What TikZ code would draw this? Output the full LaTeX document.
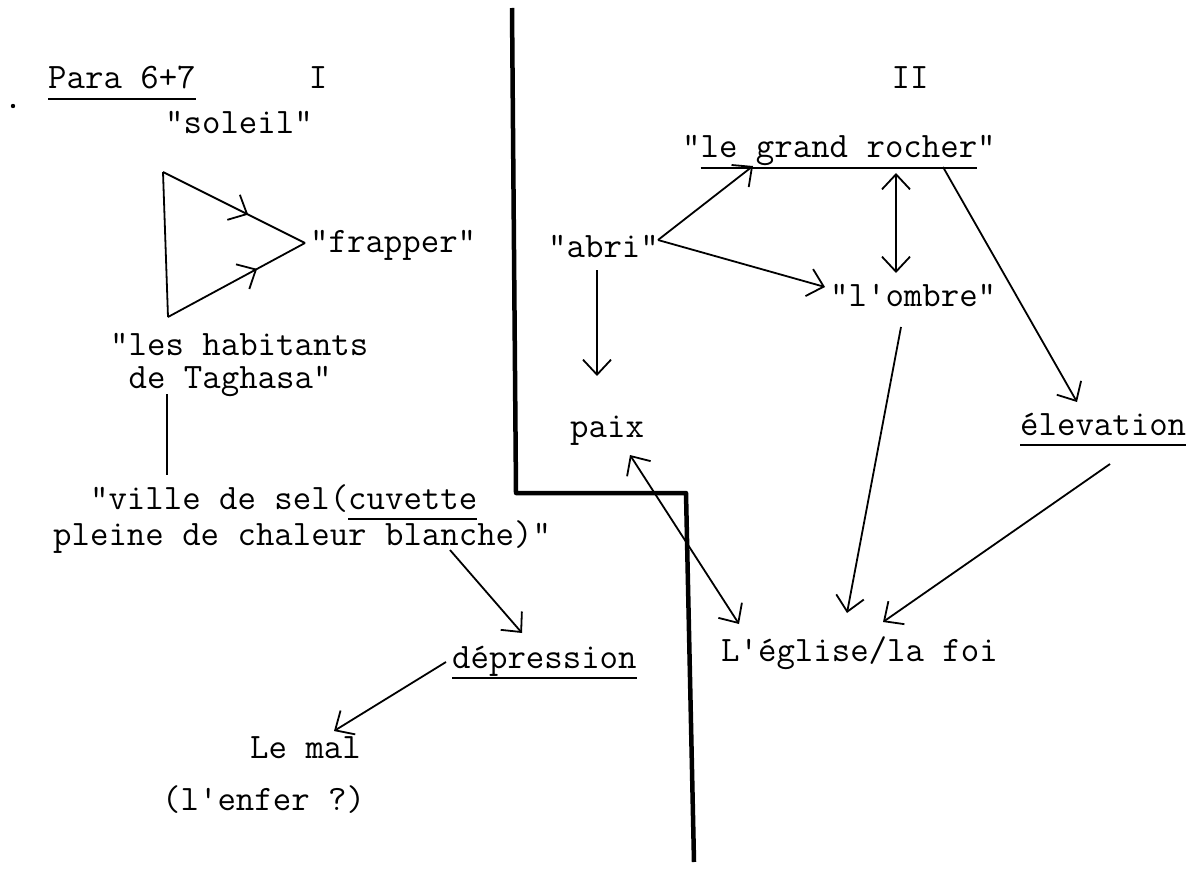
\documentclass[tikz,border=0pt]{standalone}
\usepackage{tikz}
\usetikzlibrary{arrows.meta,calc,decorations.markings}
\newsavebox\ulbox
\newcommand*{\tul}[1]{\sbox\ulbox{#1}\rlap{\rule[-0.3em]{\wd\ulbox}{1.6pt}}\usebox\ulbox}
\newcommand*{\typed}{\ttfamily\fontsize{35.8}{32}\selectfont}
\tikzset{
  word/.style={anchor=base west, inner sep=2pt, text height=22pt, text depth=8pt},
  lines/.style={anchor=north west, inner sep=2pt, align=left},
  link/.style={line width=1.8pt, -{Straight Barb[length=15pt,width=28pt]}},
  both/.style={link, {Straight Barb[length=15pt,width=28pt]}-{Straight Barb[length=15pt,width=28pt]}},
  midarrow/.style={postaction={decorate}, decoration={markings,
      mark=at position #1 with {\arrow{Straight Barb[length=15pt,width=28pt]}}}},
}
\begin{document}
\begin{tikzpicture}[x=1pt, y=-1pt, font=\typed]
  \useasboundingbox (0, 0) rectangle (1202, 869);

  % part I
  \fill (13, 106) circle (2.2);
  \node[word] (para) at (46, 89) {\tul{Para 6+7}};
  \node[word, anchor=base] (one) at (318, 89) {I};
  \node[word] (soleil) at (163, 134) {"soleil"};
  \node[word] (frapper) at (308, 252) {"frapper"};
  \node[lines] (hab) at (108, 331) {"les habitants\\[1pt]\phantom{x}de Taghasa"};
  \node[lines] (ville) at (51, 482) {\phantom{xx}"ville de sel(\tul{cuvette}\\pleine de chaleur blanche)"};
  \node[word] (dep) at (450, 668) {\tul{dépression}};
  \node[word] (mal) at (248, 758) {Le mal};
  \node[word] (enfer) at (160, 810) {(l'enfer ?)};

  \coordinate (sun) at (163, 172);
  \coordinate (inh) at (168, 317);
  \coordinate (tip) at ($(frapper.base west)+(-3, -9)$);
  \draw[line width=1.8pt] (inh) -- (sun);
  \draw[line width=1.8pt, midarrow=.6] (sun) -- (tip);
  \draw[line width=1.8pt, midarrow=.65] (inh) -- (tip);

  \draw[line width=1.8pt] ($(hab.north west)+(59, 63)$) -- ($(ville.north west)+(116, -7)$);
  \draw[link] ($(ville.north west)+(399, 68)$) -- ($(dep.base west)+(72, -35)$);
  \draw[link] ($(dep.base west)+(-4, -6)$) -- ($(mal.base west)+(86, -27)$);

  % the dividing line
  \draw[line width=4.5pt, line join=round] (512, 8) -- (516, 493) -- (686, 493) -- (694, 862);

  % part II
  \node[word, anchor=base] (two) at (910, 89) {II};
  \node[word] (abri) at (546, 257) {"abri"};
  \node[word] (rocher) at (680, 158) {"\tul{le grand rocher}"};
  \node[word] (ombre) at (828, 306) {"l'ombre"};
  \node[word] (paix) at (568, 437) {paix};
  \node[word] (elev) at (1018, 435) {\tul{élevation}};
  \node[word] (eglise) at (719, 661) {L'église/la foi};

  \draw[link] ($(abri.base west)+(112, -17)$) -- ($(rocher.base west)+(73, 8)$);
  \draw[link] ($(abri.base west)+(112, -17)$) -- ($(ombre.base west)+(-3, -19)$);
  \draw[both] ($(rocher.base west)+(216, 15)$) -- ($(ombre.base west)+(68, -33)$);
  \draw[link] ($(rocher.base west)+(263, 9)$) -- ($(elev.base west)+(59, -33)$);
  \draw[link] ($(abri.base west)+(51, 13)$) -- ($(paix.base west)+(29, -61)$);
  \draw[both] ($(paix.base west)+(62, 18)$) -- ($(eglise.base west)+(20, -37)$);
  \draw[link] ($(ombre.base west)+(73, 21)$) -- ($(eglise.base west)+(128, -48)$);
  \draw[link] ($(elev.base west)+(92, 29)$) -- ($(eglise.base west)+(164, -39)$);
\end{tikzpicture}
\end{document}
